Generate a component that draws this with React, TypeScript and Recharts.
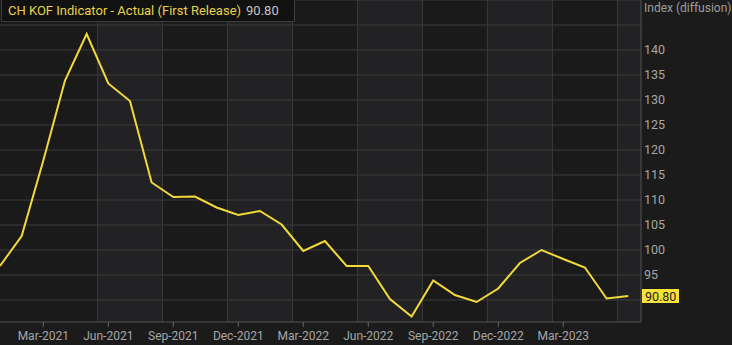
import React from 'react';
import { LineChart, Line, XAxis, YAxis, ReferenceLine, ReferenceArea } from 'recharts';

const months = [
  'Jan-2021', 'Feb-2021', 'Mar-2021', 'Apr-2021', 'May-2021', 'Jun-2021',
  'Jul-2021', 'Aug-2021', 'Sep-2021', 'Oct-2021', 'Nov-2021', 'Dec-2021',
  'Jan-2022', 'Feb-2022', 'Mar-2022', 'Apr-2022', 'May-2022', 'Jun-2022',
  'Jul-2022', 'Aug-2022', 'Sep-2022', 'Oct-2022', 'Nov-2022', 'Dec-2022',
  'Jan-2023', 'Feb-2023', 'Mar-2023', 'Apr-2023', 'May-2023', 'Jun-2023',
];

const values = [
  96.8, 102.8, 117.9, 133.9, 143.2, 133.3,
  129.8, 113.5, 110.6, 110.7, 108.5, 107.0,
  107.8, 105.1, 99.8, 101.8, 96.8, 96.8,
  90.2, 86.7, 93.9, 91.0, 89.6, 92.3,
  97.4, 100.0, 98.2, 96.5, 90.3, 90.8,
];

const tickMonths = [
  'Mar-2021', 'Jun-2021', 'Sep-2021', 'Dec-2021', 'Mar-2022',
  'Jun-2022', 'Sep-2022', 'Dec-2022', 'Mar-2023',
];

// vertical grid lines fall halfway after these months
const gridMonths = [
  'May-2021', 'Aug-2021', 'Nov-2021', 'Feb-2022', 'May-2022',
  'Aug-2022', 'Nov-2022', 'Feb-2023', 'May-2023',
];

const yTicks = [90, 95, 100, 105, 110, 115, 120, 125, 130, 135, 140, 145, 150];
const yLabelled = [95, 100, 105, 110, 115, 120, 125, 130, 135, 140];

const titleText = 'CH KOF Indicator - Actual (First Release)';
const yUnit = 'Index (diffusion)';

const data = months.map((m, i) => ({ i, month: m, value: values[i] }));
const xTicks = tickMonths.map((m) => months.indexOf(m));
const gridX = gridMonths.map((m) => months.indexOf(m) + 0.5);
const X_MAX = 29.59;
const Y_MIN = 85.6;
const Y_MAX = 150;
const bands: [number, number][] = [];
for (let k = 0; k < gridX.length; k += 2) {
  bands.push([gridX[k], k + 1 < gridX.length ? gridX[k + 1] : X_MAX]);
}
const lastValue = values[values.length - 1];

const LINE = '#f2d93b';
const BADGE = '#f5e13a';
const GRID = '#3a3a3b';

const Badge = (props: any) => {
  const vb = props.viewBox || {};
  const x = vb.x + vb.width + 1;
  const y = vb.y;
  return (
    <g>
      <rect x={x} y={y - 7} width={37} height={14} fill={BADGE} />
      <text x={x + 3} y={y + 4.5} fontSize={12.5} fill="#222" fontFamily="Roboto">
        {lastValue.toFixed(2)}
      </text>
    </g>
  );
};

export default function App() {
  return (
    <div
      style={{
        position: 'absolute',
        left: 0,
        top: 0,
        width: 732,
        height: 345,
        background: '#1b1b1b',
        fontFamily: 'Roboto, sans-serif',
        overflow: 'hidden',
      }}
    >
      <LineChart width={732} height={345} data={data} margin={{ top: 0, right: 0, bottom: 0, left: 0 }}>
        <ReferenceArea x1={0} x2={X_MAX} y1={Y_MIN} y2={Y_MAX} fill="#1a1a1b" fillOpacity={1} stroke="none" ifOverflow="hidden" />
        {bands.map(([a, b], k) => (
          <ReferenceArea key={'b' + k} x1={a} x2={b} y1={Y_MIN} y2={Y_MAX} fill="#222224" fillOpacity={1} stroke="none" ifOverflow="hidden" />
        ))}
        {yTicks.map((t) => (
          <ReferenceLine key={'h' + t} y={t} stroke={GRID} strokeWidth={1} />
        ))}
        {gridX.map((gx, k) => (
          <ReferenceLine key={'g' + k} x={gx} stroke={GRID} strokeWidth={1} />
        ))}
        <XAxis
          dataKey="i"
          type="number"
          domain={[0, X_MAX]}
          ticks={xTicks}
          interval={0}
          tickFormatter={(v: number) => months[v]}
          height={23}
          tickSize={5}
          tickMargin={4}
          axisLine={{ stroke: '#555' }}
          tickLine={{ stroke: '#666' }}
          tick={{ fill: '#a6a6a6', fontSize: 12 }}
        />
        <YAxis
          orientation="right"
          width={91}
          domain={[Y_MIN, Y_MAX]}
          ticks={yTicks}
          interval={0}
          tickFormatter={(v: number) => (yLabelled.includes(v) ? String(v) : '')}
          tickLine={false}
          tickSize={0}
          tickMargin={3}
          axisLine={{ stroke: '#555' }}
          tick={{ fill: '#a6a6a6', fontSize: 12.5 }}
        />
        <ReferenceLine y={lastValue} stroke="none" label={(p: any) => <Badge {...p} />} />
        <Line
          type="linear"
          dataKey="value"
          stroke={LINE}
          strokeWidth={2}
          dot={false}
          activeDot={false}
          isAnimationActive={false}
        />
      </LineChart>
      <div
        style={{
          position: 'absolute',
          left: 1,
          top: -1,
          width: 294,
          height: 23,
          background: '#111',
          border: '1px solid #3a3a3a',
          boxSizing: 'border-box',
          fontSize: 13,
          lineHeight: '21px',
          paddingLeft: 6,
          whiteSpace: 'nowrap',
        }}
      >
        <span style={{ color: '#e8d24a' }}>{titleText}</span>
        <span style={{ color: '#c4c4c4', marginLeft: 5 }}>{lastValue.toFixed(2)}</span>
      </div>
      <div
        style={{
          position: 'absolute',
          left: 644,
          top: 0,
          fontSize: 12,
          lineHeight: '16px',
          color: '#9e9e9e',
          whiteSpace: 'nowrap',
        }}
      >
        {yUnit}
      </div>
    </div>
  );
}
